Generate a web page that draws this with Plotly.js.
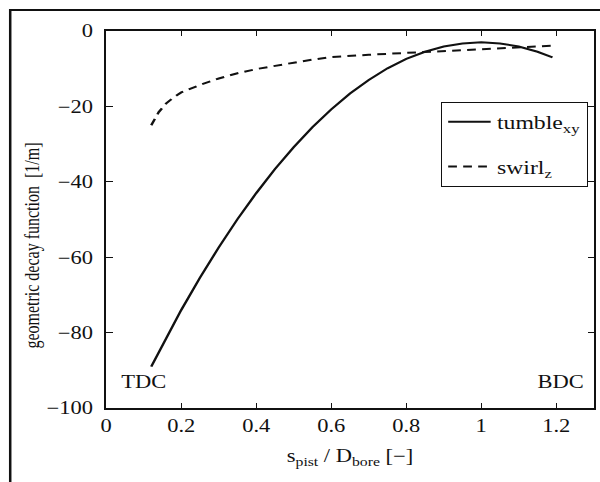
<!DOCTYPE html>
<html>
<head>
<meta charset="utf-8">
<script src="https://cdn.plot.ly/plotly-3.0.1.min.js"></script>
<style>
html,body{margin:0;padding:0;background:#fff;overflow:hidden;}
#wrap{width:600px;height:482px;overflow:hidden;}
#chart{width:480px;height:482px;transform:scaleX(1.25);transform-origin:0 0;}
</style>
</head>
<body>
<div id="wrap"><div id="chart"></div></div>
<script>
const tumbleX = [0.12, 0.15, 0.2, 0.25, 0.3, 0.35, 0.4, 0.45, 0.5, 0.55, 0.6, 0.65, 0.7, 0.75, 0.8, 0.85, 0.9, 0.95, 1.0, 1.05, 1.1, 1.15, 1.19];
const tumbleY = [-89.0, -83.2, -74.0, -65.4, -57.4, -49.9, -43.0, -36.6, -30.8, -25.5, -20.8, -16.6, -13.0, -9.9, -7.4, -5.5, -4.1, -3.3, -3.0, -3.3, -4.1, -5.5, -7.0];
const swirlX = [0.12, 0.14, 0.16, 0.18, 0.2, 0.25, 0.3, 0.35, 0.4, 0.45, 0.5, 0.55, 0.6, 0.7, 0.8, 0.9, 1.0, 1.1, 1.19];
const swirlY = [-25.0, -21.5, -19.2, -17.6, -16.3, -14.3, -12.6, -11.2, -10.1, -9.2, -8.4, -7.6, -6.9, -6.3, -5.8, -5.2, -4.8, -4.3, -3.9];
const xTicks = [0, 0.2, 0.4, 0.6, 0.8, 1, 1.2];
const yTicks = [-100, -80, -60, -40, -20, 0];
const yTickText = ['\u2212100', '\u221280', '\u221260', '\u221240', '\u221220', '0'];
const yTitle = 'geometric decay function  [1/m]';
const xTitle = 's<sub>pist</sub> / D<sub>bore</sub> [\u2212]';

const font = 'Liberation Serif, Times New Roman, serif';
const ink = '#111';

const traces = [
  {x: tumbleX, y: tumbleY, mode: 'lines', name: 'tumble<sub>xy</sub>', legendgroup: 'a',
   line: {color: ink, width: 2}},
  {x: swirlX, y: swirlY, mode: 'lines', name: 'swirl<sub>z</sub>', legendgroup: 'b',
   line: {color: ink, width: 2, dash: '7px,5px'}}
];

const axisCommon = {
  showgrid: false, zeroline: false, showline: true, linecolor: ink, linewidth: 2,
  mirror: 'ticks', ticks: 'inside', ticklen: 5, tickwidth: 1, tickcolor: ink,
  tickfont: {family: font, size: 18, color: ink}
};

const layout = {
  width: 480, height: 482,
  margin: {l: 85, r: 5, t: 31, b: 74},
  paper_bgcolor: '#fff', plot_bgcolor: '#fff',
  font: {family: font, color: ink},
  xaxis: Object.assign({}, axisCommon, {
    range: [0, 1.3], tickvals: xTicks, ticktext: xTicks.map(String),
    title: {text: xTitle, font: {family: font, size: 18, color: ink}, standoff: 15}
  }),
  yaxis: Object.assign({}, axisCommon, {
    range: [-100, 0], tickvals: yTicks, ticktext: yTickText, ticklabelstandoff: 5
  }),
  showlegend: true,
  legend: {
    x: 0.686, y: 0.812, xanchor: 'left', yanchor: 'top',
    bgcolor: '#fff', bordercolor: ink, borderwidth: 1,
    font: {family: font, size: 19, color: ink},
    traceorder: 'grouped', tracegroupgap: 17, itemwidth: 34
  },
  annotations: [
    {x: 0.101, y: -93, xref: 'x', yref: 'y', text: 'TDC', showarrow: false, font: {family: font, size: 18, color: ink}},
    {x: 1.21, y: -93, xref: 'x', yref: 'y', text: 'BDC', showarrow: false, font: {family: font, size: 18, color: ink}},
    {x: -0.152, y: 0.43, xref: 'paper', yref: 'paper', xanchor: 'center', yanchor: 'middle', textangle: -90,
     text: yTitle, showarrow: false, font: {family: font, size: 16, color: ink}}
  ],
  shapes: [
    {type: 'rect', xref: 'paper', yref: 'paper', x0: -0.197, x1: 1.05, y0: -0.3, y1: 1.0557,
     line: {color: ink, width: 2}, fillcolor: 'rgba(0,0,0,0)'}
  ]
};

Plotly.newPlot('chart', traces, layout, {displayModeBar: false, staticPlot: true});
</script>
</body>
</html>
